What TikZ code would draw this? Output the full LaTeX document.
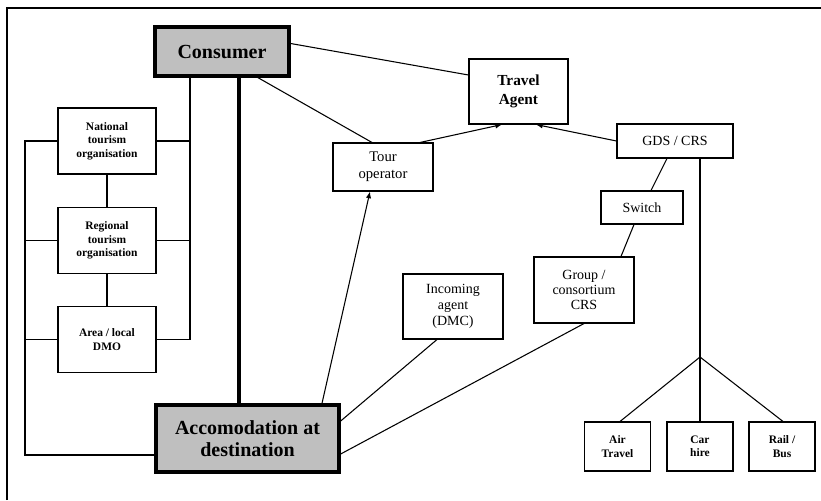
\documentclass[tikz,border=0pt]{standalone}
\usepackage{fontspec}
\setmainfont{Liberation Serif}
\usetikzlibrary{calc,arrows.meta}
\tikzset{box/.style = {draw, thick, fill=white, align=center, inner sep=1pt},
    keybox/.style = {box, fill=black!25, line width=2.5pt, font=\bfseries\fontsize{15}{16}\selectfont},
    orgbox/.style = {box, minimum width=98*0.75pt, minimum height=66*0.75pt, font=\bfseries\fontsize{8.6}{10}\selectfont},
    modebox/.style = {box, minimum width=66*0.75pt, minimum height=49*0.75pt, font=\bfseries\fontsize{8.6}{10}\selectfont},
    link/.style = {thick},
    flow/.style = {thick, -{Latex[length=5pt,width=4pt]}}}

\begin{document}
\begin{tikzpicture}[x=0.75pt, y=-0.75pt]
    \useasboundingbox (0,0) rectangle (821,500);
    \draw[line width=1.5pt](7,500)--(7,8)--(821,8);

    \node[keybox, minimum width=134*0.75pt, minimum height=49*0.75pt](consumer)at(222,51.5){Consumer};
    \node[keybox, minimum width=183*0.75pt, minimum height=67*0.75pt, font=\bfseries\fontsize{15}{17}\selectfont](accom)at(247.5,438.5){Accomodation at\\destination};

        \node[orgbox](national)at(107,141){National\\tourism\\organisation};
        \node[orgbox](regional)at(107,240.5){Regional\\tourism\\organisation};
        \node[orgbox](area)at(107,339.5){Area / local\\DMO};

        \node[box, minimum width=100*0.75pt, minimum height=48*0.75pt, font=\fontsize{11}{13}\selectfont](tour)at(383,167){Tour\\operator};
        \node[box, minimum width=99*0.75pt, minimum height=65*0.75pt, font=\bfseries\fontsize{11.5}{14}\selectfont](travel)at(518.5,91.5){Travel\\Agent};
        \node[box, minimum width=116*0.75pt, minimum height=34*0.75pt, font=\fontsize{10.5}{12}\selectfont](gds)at(675,141){GDS / CRS};
        \node[box, minimum width=82*0.75pt, minimum height=33*0.75pt, font=\fontsize{10.5}{12}\selectfont](switch)at(642,207.5){Switch};
        \node[box, minimum width=100*0.75pt, minimum height=66*0.75pt, font=\fontsize{10.5}{11.5}\selectfont](group)at(584,290){Group /\\consortium\\CRS};
        \node[box, minimum width=100*0.75pt, minimum height=65*0.75pt, font=\fontsize{10.5}{12}\selectfont](incoming)at(453,306.5){Incoming\\agent\\(DMC)};

        \node[modebox](air)at(617.5,446.5){Air\\Travel};
        \node[modebox](car)at(700,446.5){Car\\hire};
        \node[modebox](rail)at(782,446.5){Rail /\\Bus};

        % tourism organisations
        \draw[link](national)--(regional);
        \draw[link](regional)--(area);
        \draw[link](national.west)--(25,141)--(25,455)--($(accom.west)+(0,16.5)$);
        \draw[link](regional.west)--(25,240.5);
        \draw[link](area.west)--(25,339.5);
        \draw[link]($(consumer.south)+(-32,0)$)--(190,339.5)--(area.east);
        \draw[link](national.east)--(190,141);
        \draw[link](regional.east)--(190,240.5);
        \draw[line width=3pt]($(consumer.south)+(17,0)$)--($(accom.north)+(-8.5,0)$);

        % distribution
        \draw[link]($(consumer.east)+(0,-8)$)--($(travel.west)+(0,-16.5)$);
        \draw[link]($(consumer.south)+(36,0)$)--($(tour.north)+(-11,0)$);
        \draw[flow]($(tour.north)+(37,0)$)--($(travel.south)+(-16.5,0)$);
        \draw[flow](gds.west)--($(travel.south)+(17.5,0)$);
        \draw[link]($(gds.south)+(-8,0)$)--($(switch.north)+(9,0)$);
        \draw[link]($(switch.south)+(-8,0)$)--($(group.north)+(37,0)$);
        \draw[link](group.south)--($(accom.east)+(0,15.5)$);
        \draw[link]($(incoming.south)+(-16,0)$)--($(accom.east)+(0,-17.5)$);
        \draw[flow]($(accom.north)+(74.5,0)$)--($(tour.south)+(-13,0)$);

        % transport
        \coordinate(fork)at(700,357);
        \draw[link]($(gds.south)+(25,0)$)--(fork);
        \draw[link](fork)--($(air.north)+(2.5,0)$);
        \draw[link](fork)--(car.north);
        \draw[link](fork)--($(rail.north)+(1,0)$);
\end{tikzpicture}
\end{document}
